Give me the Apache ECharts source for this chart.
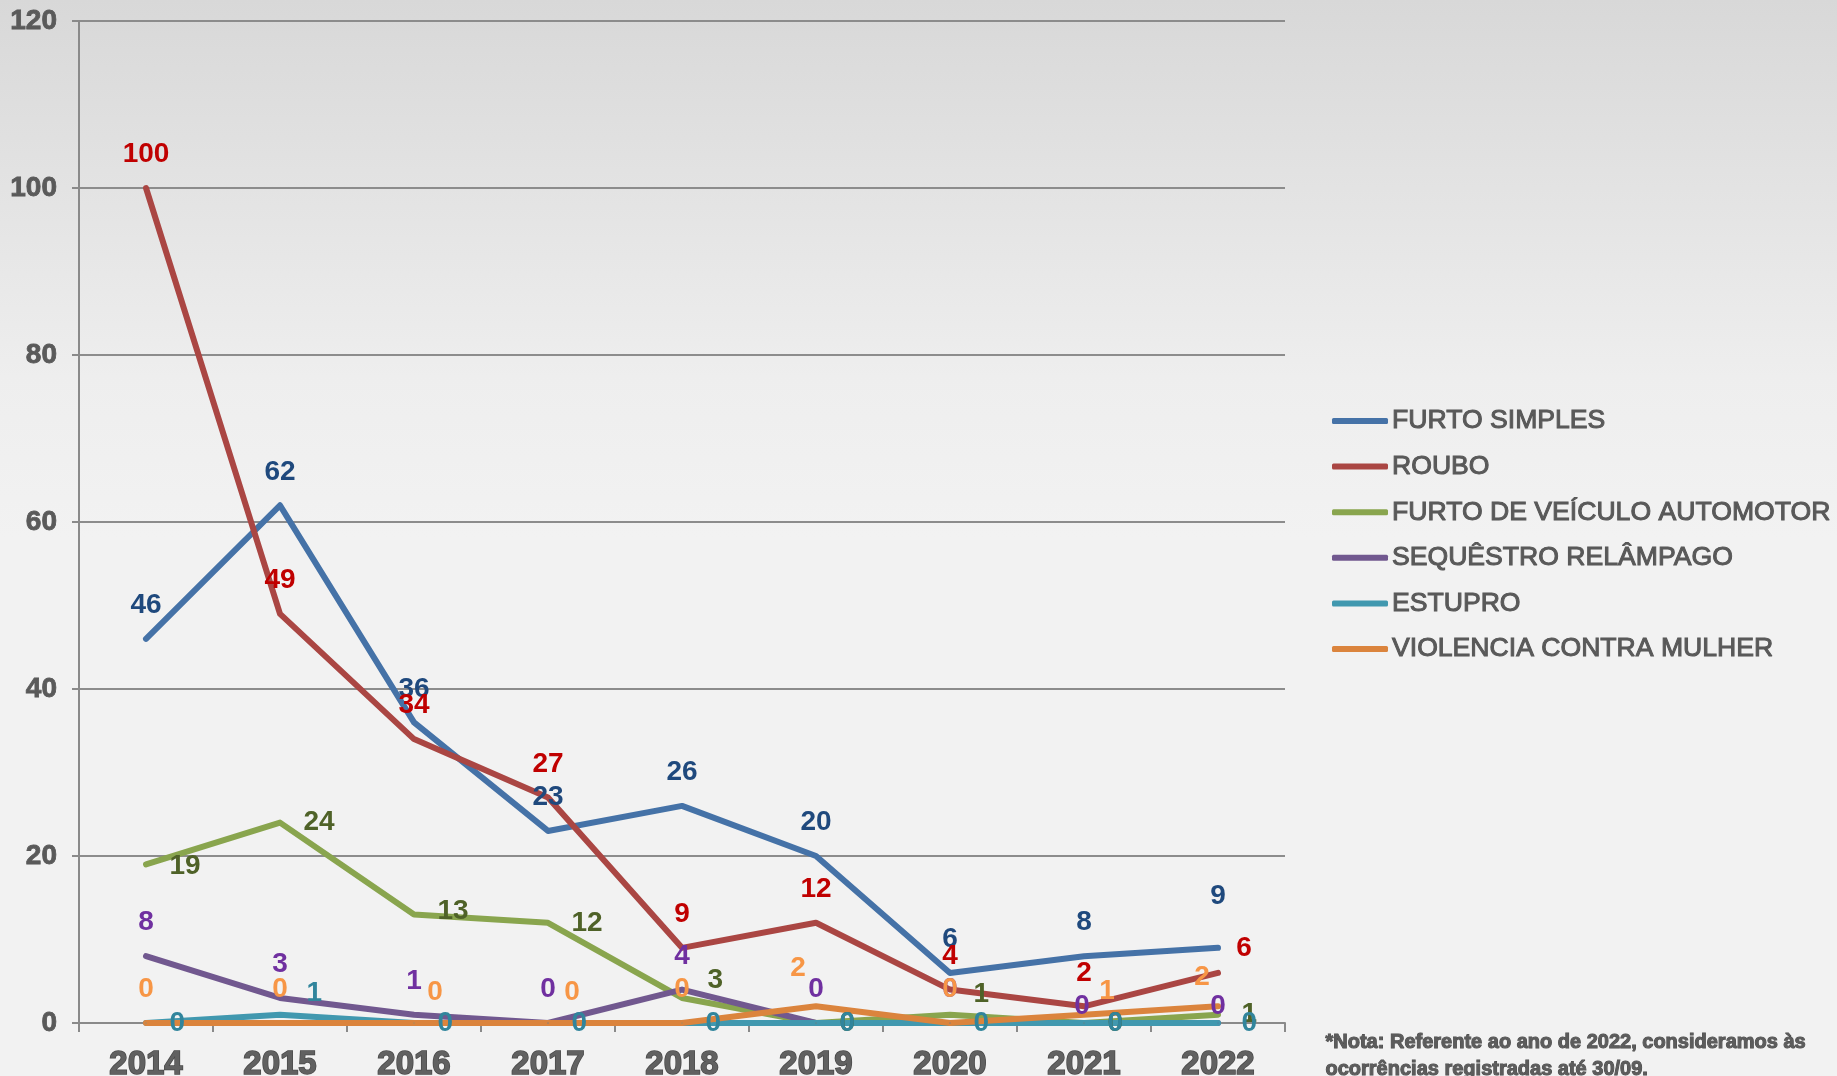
<!DOCTYPE html>
<html>
<head>
<meta charset="utf-8">
<script src="https://cdn.jsdelivr.net/npm/echarts@6/dist/echarts.min.js"></script>
<style>
  html, body { margin: 0; padding: 0; }
  body { background: linear-gradient(#d8d8d8 0%, #eeeeee 35%, #f2f2f2 50%, #f2f2f2 100%); }
  #chart { width: 1837px; height: 1076px; }
</style>
</head>
<body>
<div id="chart"></div>
<script>
  // valores
  const years = ['2014', '2015', '2016', '2017', '2018', '2019', '2020', '2021', '2022'];
  const furtoSimples = [46, 62, 36, 23, 26, 20, 6, 8, 9];
  const roubo = [100, 49, 34, 27, 9, 12, 4, 2, 6];
  const furtoVeiculo = [19, 24, 13, 12, 3, 0, 1, 0, 1];
  const sequestro = [8, 3, 1, 0, 4, 0, 0, 0, 0];
  const estupro = [0, 1, 0, 0, 0, 0, 0, 0, 0];
  const violencia = [0, 0, 0, 0, 0, 2, 0, 1, 2];
  const yTicks = [0, 20, 40, 60, 80, 100, 120];

  const chart = echarts.init(document.getElementById('chart'));

  // name, values, line color, label color, label position, per-point label nudges
  const defs = [
    ['FURTO SIMPLES', furtoSimples, '#4572A7', '#1F497D', 'top', { 8: [0, -18] }],
    ['ROUBO', roubo, '#AA4643', '#C00000', 'top', { 8: [26, 9] }],
    ['FURTO DE VEÍCULO AUTOMOTOR', furtoVeiculo, '#89A54E', '#4F6228', 'right', { 0: [0, 2], 2: [0, -3], 4: [2, -18], 6: [0, -20] }],
    ['SEQUÊSTRO RELÂMPAGO', sequestro, '#71588F', '#7030A0', 'top', { 7: [-2, 17], 8: [0, 17] }],
    ['ESTUPRO', estupro, '#4198AF', '#31859C', 'right', { 1: [3, -21] }],
    ['VIOLENCIA CONTRA MULHER', violencia, '#DB843D', '#F79646', 'top', { 2: [21, 3], 3: [24, 3], 5: [-18, -5], 7: [23, 10], 8: [-16, 4] }]
  ];

  const series = defs.map(function (d) {
    return {
      name: d[0],
      type: 'line',
      symbol: 'circle',
      symbolSize: 1,
      lineStyle: { width: 6, color: d[2], cap: 'round', join: 'round' },
      itemStyle: { color: d[2] },
      label: {
        show: true,
        position: d[4],
        distance: d[4] === 'top' ? 19 : 23,
        color: d[3],
        fontSize: 28,
        fontWeight: 'bold',
        fontFamily: 'Liberation Sans, Arial, sans-serif'
      },
      emphasis: { disabled: true },
      data: d[1].map(function (v, i) {
        const off = d[5][i];
        return off ? { value: v, label: { offset: off } } : v;
      })
    };
  });

  const option = {
    animation: false,
    backgroundColor: 'transparent',
    grid: { left: 79, right: 552, top: 21, bottom: 53, outerBoundsMode: 'none', containLabel: false },
    legend: {
      orient: 'vertical',
      left: 1327,
      top: 402,
      icon: 'roundRect',
      itemWidth: 56,
      itemHeight: 6,
      itemGap: 17.6,
      selectedMode: false,
      textStyle: {
        color: '#595959',
        fontSize: 26.6,
        lineHeight: 27,
        fontFamily: 'Liberation Sans, Arial, sans-serif',
        textBorderColor: '#555555',
        textBorderWidth: 1,
        padding: [0, 0, 0, -1]
      },
      data: defs.map(function (d) { return d[0]; })
    },
    xAxis: {
      type: 'category',
      data: years,
      boundaryGap: true,
      axisLine: { lineStyle: { color: '#8a8a8a', width: 2 } },
      axisTick: { show: true, length: 9, lineStyle: { color: '#8a8a8a', width: 2 } },
      axisLabel: {
        margin: 25,
        color: '#616161',
        fontSize: 33,
        fontWeight: 'bold',
        fontFamily: 'Liberation Sans, Arial, sans-serif',
        textBorderColor: '#4a4a4a',
        textBorderWidth: 1.5
      }
    },
    yAxis: {
      type: 'value',
      min: yTicks[0],
      max: yTicks[yTicks.length - 1],
      interval: 20,
      axisLine: { show: true, lineStyle: { color: '#8a8a8a', width: 2 } },
      axisTick: { show: true, length: 7, lineStyle: { color: '#8a8a8a', width: 2 } },
      splitLine: { lineStyle: { color: '#8c8c8c', width: 2 } },
      axisLabel: {
        margin: 22,
        color: '#5a5a5a',
        fontSize: 28,
        fontWeight: 'bold',
        fontFamily: 'Liberation Sans, Arial, sans-serif',
        textBorderColor: '#555555',
        textBorderWidth: 0.8
      }
    },
    graphic: [{
      type: 'text',
      left: 1325,
      top: 1029,
      silent: true,
      style: {
        text: '*Nota: Referente ao ano de 2022, consideramos às\nocorrências registradas até 30/09.',
        font: 'bold 20px "Liberation Sans", Arial, sans-serif',
        lineHeight: 27,
        fill: '#5c5c5c',
        stroke: '#4a4a4a',
        lineWidth: 1
      }
    }],
    series: series
  };

  chart.setOption(option);
</script>
</body>
</html>
